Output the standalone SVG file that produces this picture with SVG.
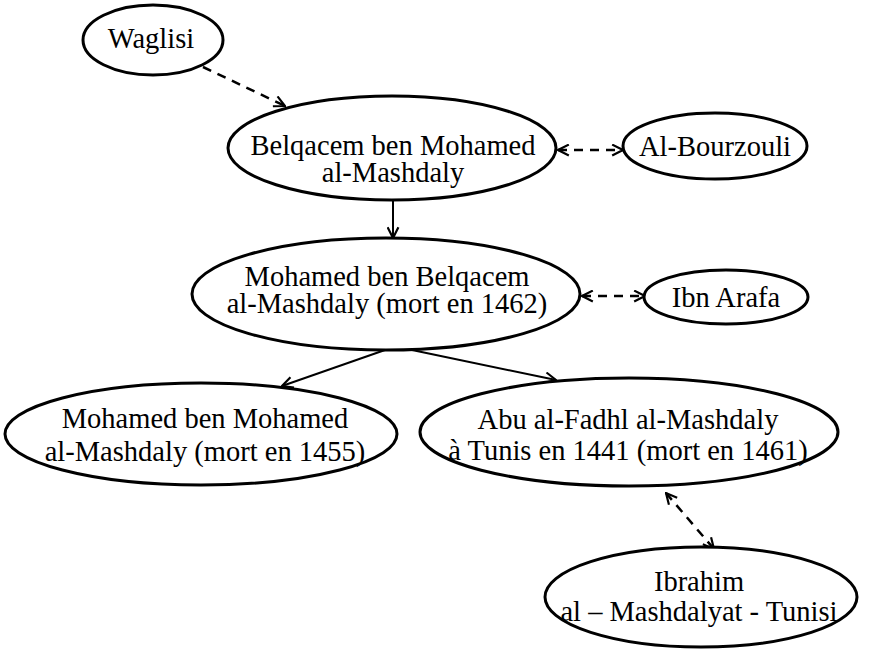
<svg xmlns="http://www.w3.org/2000/svg" width="874" height="651" viewBox="0 0 874 651">
<style>
.n ellipse{fill:#fff;stroke:#000;stroke-width:3}
.n text{font-family:"Liberation Serif","Times New Roman",serif;font-size:28.5px;fill:#000;text-anchor:middle}
.c line{stroke:#000;stroke-width:2}
.c .d{stroke-width:2.5;stroke-dasharray:9 7}
</style>
<defs>
<marker id="ah" viewBox="0 0 12 12" refX="11" refY="6" markerWidth="13" markerHeight="13" markerUnits="userSpaceOnUse" orient="auto-start-reverse">
<path d="M1,1 L11,6 L1,11" fill="none" stroke="#000" stroke-width="2"/>
</marker>
</defs>
<rect width="874" height="651" fill="#fff"/>
<g class="c" id="connectors">
<line class="d" x1="203" y1="67" x2="285" y2="106" marker-end="url(#ah)"/>
<line class="d" x1="558" y1="150" x2="623" y2="150" marker-start="url(#ah)" marker-end="url(#ah)"/>
<line x1="393" y1="200" x2="393" y2="238" marker-end="url(#ah)"/>
<line class="d" x1="582" y1="296" x2="645" y2="296" marker-start="url(#ah)" marker-end="url(#ah)"/>
<line x1="385" y1="350" x2="282" y2="386" marker-end="url(#ah)"/>
<line x1="412" y1="350" x2="556" y2="380" marker-end="url(#ah)"/>
<line class="d" x1="666" y1="493" x2="714" y2="549" marker-start="url(#ah)" marker-end="url(#ah)"/>
</g>
<g class="n" id="waglisi">
<ellipse cx="153" cy="40" rx="70" ry="35"/>
<text x="151" y="48">Waglisi</text>
</g>
<g class="n" id="belqacem">
<ellipse cx="392" cy="148" rx="164" ry="52"/>
<text x="393" y="155">Belqacem ben Mohamed</text>
<text x="393" y="182">al-Mashdaly</text>
</g>
<g class="n" id="bourzouli">
<ellipse cx="715" cy="146" rx="92" ry="33"/>
<text x="715" y="156">Al-Bourzouli</text>
</g>
<g class="n" id="mohamed-belqacem">
<ellipse cx="386" cy="294" rx="194" ry="56"/>
<text x="387" y="286">Mohamed ben Belqacem</text>
<text x="387" y="313">al-Mashdaly (mort en 1462)</text>
</g>
<g class="n" id="ibn-arafa">
<ellipse cx="726" cy="297" rx="82" ry="27"/>
<text x="726" y="307">Ibn Arafa</text>
</g>
<g class="n" id="mohamed-mohamed">
<ellipse cx="201" cy="434" rx="196" ry="51"/>
<text x="205" y="428">Mohamed ben Mohamed</text>
<text x="205" y="461">al-Mashdaly (mort en 1455)</text>
</g>
<g class="n" id="abu-fadhl">
<ellipse cx="629" cy="432" rx="209" ry="54"/>
<text x="628" y="429">Abu al-Fadhl al-Mashdaly</text>
<text x="628" y="460">à Tunis en 1441 (mort en 1461)</text>
</g>
<g class="n" id="ibrahim">
<ellipse cx="701" cy="597" rx="156" ry="50"/>
<text x="699" y="591">Ibrahim</text>
<text x="699" y="621">al – Mashdalyat - Tunisi</text>
</g>
</svg>
